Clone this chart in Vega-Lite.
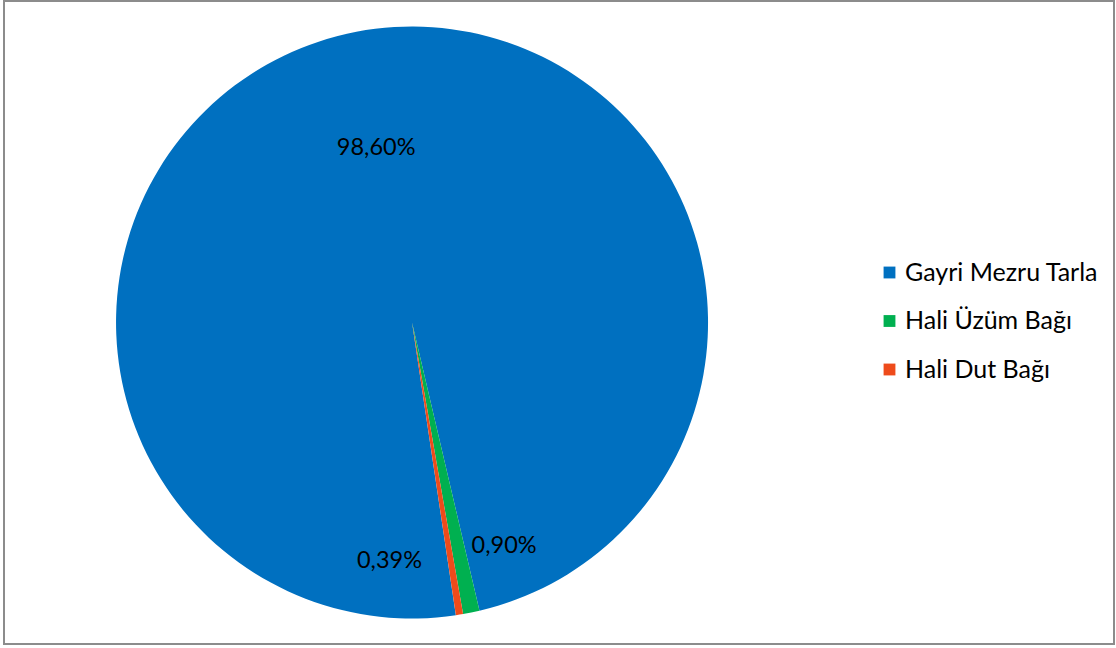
{
  "$schema": "https://vega.github.io/schema/vega-lite/v6.json",
  "width": 1116,
  "height": 648,
  "autosize": {"type": "fit", "contains": "padding"},
  "padding": {"left": 4, "top": 1, "right": 2, "bottom": 4},
  "background": "white",
  "view": {"stroke": "#8c8c8c", "strokeWidth": 2},
  "config": {
    "view": {"stroke": "#8c8c8c", "strokeWidth": 2},
    "font": "Lato"
  },
  "data": {
    "values": [
      {"cat": "Gayri Mezru Tarla", "value": 98.60, "label": "98,60%", "rank": 1},
      {"cat": "Hali Üzüm Bağı", "value": 0.90, "label": "0,90%", "rank": 2},
      {"cat": "Hali Dut Bağı", "value": 0.39, "label": "0,39%", "rank": 3}
    ]
  },
  "encoding": {
    "theta": {"field": "value", "type": "quantitative", "stack": true, "scale": {"range": [2.993, 9.276]}},
    "order": {"field": "rank", "type": "quantitative"}
  },
  "layer": [
    {
      "mark": {"type": "arc", "radius": 296, "x": {"expr": "width * 0.3676"}, "stroke": null},
      "encoding": {
        "color": {
          "field": "cat",
          "type": "nominal",
          "sort": ["Gayri Mezru Tarla", "Hali Üzüm Bağı", "Hali Dut Bağı"],
          "scale": {"domain": ["Gayri Mezru Tarla", "Hali Üzüm Bağı", "Hali Dut Bağı"], "range": ["#0070C0", "#00B050", "#EE4B1B"]},
          "legend": {
            "title": null,
            "orient": "none",
            "legendX": 873,
            "legendY": 259,
            "symbolType": "square",
            "symbolSize": 140,
            "symbolStrokeWidth": 0,
            "labelFontSize": 25,
            "labelColor": "#000000",
            "labelFont": "Lato",
            "labelLimit": 400,
            "rowPadding": 22.5,
            "labelOffset": 3
          }
        }
      }
    },
    {
      "mark": {
        "type": "text",
        "x": {"expr": "width * 0.3676"},
        "radius": {"expr": "datum.rank == 1 ? 180 : 240"},
        "dx": {"expr": "datum.rank == 2 ? 44 : datum.rank == 3 ? -61 : -2"},
        "dy": {"expr": "datum.rank == 2 ? -12 : datum.rank == 3 ? 2 : 2"},
        "fontSize": 23.5,
        "font": "Lato",
        "color": "#000000"
      },
      "encoding": {
        "text": {"field": "label"}
      }
    }
  ]
}
